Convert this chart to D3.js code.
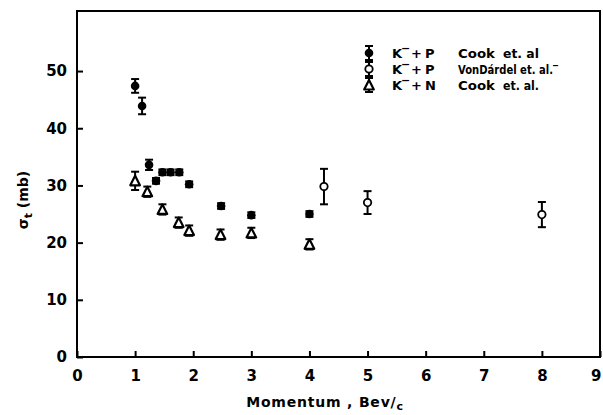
<!DOCTYPE html>
<html><head><meta charset="utf-8">
<script src="https://cdn.jsdelivr.net/npm/d3@7"></script>
<style>body{margin:0;background:#fff}svg{display:block}</style>
</head><body>
<svg id="c" width="603" height="415"></svg>
<script>
// ---- data ----
const kpCookX   = [1.0, 1.12, 1.24, 1.36, 1.47, 1.61, 1.76, 1.93, 2.48, 3.0, 4.0];
const kpCookY   = [47.4, 43.9, 33.6, 30.8, 32.3, 32.3, 32.3, 30.2, 26.4, 24.8, 25.0];
const kpCookErr = [1.2, 1.45, 0.9, 0.5, 0.5, 0.5, 0.5, 0.5, 0.5, 0.5, 0.5];
const kpVdX   = [4.25, 5.0, 8.0];
const kpVdY   = [29.8, 27.0, 24.9];
const kpVdErr = [3.1, 2.0, 2.2];
const knCookX   = [1.0, 1.21, 1.47, 1.75, 1.93, 2.47, 3.0, 4.0];
const knCookY   = [30.8, 28.9, 25.8, 23.5, 22.1, 21.4, 21.7, 19.7];
const knCookErr = [1.6, 0.9, 0.9, 0.9, 0.9, 0.9, 0.9, 0.9];
const xTicks = [0,1,2,3,4,5,6,7,8,9];
const yTicks = [0,10,20,30,40,50];
const legendLabels = [
  {react:"P", who:"Cook", etal:"et. al"},
  {react:"P", who:"VonDárdel", etal:"et. al.‾"},
  {react:"N", who:"Cook", etal:"et. al."}
];

const svg = d3.select("#c");
const FONT = "DejaVu Sans";
const x = d3.scaleLinear().domain([0,9]).range([77,600]);
const y = d3.scaleLinear().domain([0,60.5]).range([357,11]);

// frame
svg.append("rect").attr("x",x(0)).attr("y",y(60.5)).attr("width",x(9)-x(0)).attr("height",y(0)-y(60.5))
  .attr("fill","none").attr("stroke","#000").attr("stroke-width",2);

const gx = svg.append("g").attr("transform",`translate(0,${y(0)})`)
  .call(d3.axisBottom(x).tickValues(xTicks).tickSize(-6).tickPadding(13).tickFormat(d3.format("d")));
const gy = svg.append("g").attr("transform",`translate(${x(0)},0)`)
  .call(d3.axisLeft(y).tickValues(yTicks).tickSize(-6).tickPadding(10).tickFormat(d3.format("d")));
[gx,gy].forEach(g=>{
  g.select(".domain").remove();
  g.selectAll(".tick line").attr("stroke","#000").attr("stroke-width",2);
  g.selectAll(".tick text").attr("fill","#000").attr("font-family",FONT).attr("font-size",15).attr("font-weight","bold");
});
// keep the last x label inside the page
gx.selectAll(".tick text").filter(d=>d===9).attr("text-anchor","end").attr("dx",1);

// axis titles
const yl = svg.append("text").attr("transform","translate(28,200) rotate(-90)").attr("text-anchor","middle")
  .attr("font-family",FONT).attr("font-size",14).attr("font-weight","bold");
yl.append("tspan").text("σ");
yl.append("tspan").attr("dy",4).attr("font-size",11).text("t");
yl.append("tspan").attr("dy",-4).text(" (mb)");
const xl = svg.append("text").attr("x",325).attr("y",407).attr("text-anchor","middle")
  .attr("font-family",FONT).attr("font-size",14).attr("font-weight","bold").attr("letter-spacing",0.8);
xl.append("tspan").text("Momentum , Bev/");
xl.append("tspan").attr("dy",3).attr("font-size",11).text("c");

// marker helpers
function errBar(g, cx, y1, y2){
  g.append("line").attr("x1",cx).attr("x2",cx).attr("y1",y1).attr("y2",y2).attr("stroke","#000").attr("stroke-width",2);
  [y1,y2].forEach(v=>g.append("line").attr("x1",cx-4).attr("x2",cx+4).attr("y1",v).attr("y2",v).attr("stroke","#000").attr("stroke-width",2));
}
function marker(g, kind, cx, cy){
  if(kind==="filled") g.append("circle").attr("cx",cx).attr("cy",cy).attr("r",4.3).attr("fill","#000");
  else if(kind==="open") g.append("circle").attr("cx",cx).attr("cy",cy).attr("r",3.7).attr("fill","#fff").attr("stroke","#000").attr("stroke-width",1.8);
  else g.append("path").attr("d",`M${cx},${cy-5} L${cx+4.8},${cy+4.5} L${cx-4.8},${cy+4.5} Z`)
        .attr("fill","#fff").attr("stroke","#000").attr("stroke-width",2.2).attr("stroke-linejoin","round");
}
function series(xs, ys, es, kind){
  const g = svg.append("g");
  xs.forEach((xv,i)=>{
    errBar(g, x(xv), y(ys[i]+es[i]), y(ys[i]-es[i]));
  });
  xs.forEach((xv,i)=> marker(g, kind, x(xv), y(ys[i])));
}
series(knCookX, knCookY, knCookErr, "tri");
series(kpCookX, kpCookY, kpCookErr, "filled");
series(kpVdX, kpVdY, kpVdErr, "open");

// legend
const kinds = ["filled","open","tri"];
const lg = svg.append("g").attr("font-family",FONT).attr("font-size",13).attr("font-weight","bold").attr("fill","#000");
legendLabels.forEach((d,i)=>{
  const cy = 53 + i*16;
  errBar(lg, 369, cy-7, cy+7);
  marker(lg, kinds[i], 369, cy);
  const base = cy + 5;
  lg.append("text").attr("x",392).attr("y",base).text("K");
  lg.append("text").attr("x",401).attr("y",base-6).attr("font-size",11).text("−");
  lg.append("text").attr("x",411).attr("y",base).text("+");
  lg.append("text").attr("x",425).attr("y",base).text(d.react);
  if(i===1){
    lg.append("text").attr("x",458).attr("y",base).attr("textLength",100)
      .attr("lengthAdjust","spacingAndGlyphs").text(d.who+" "+d.etal);
  } else {
    lg.append("text").attr("x",458).attr("y",base).attr("textLength",37)
      .attr("lengthAdjust","spacingAndGlyphs").text(d.who);
    lg.append("text").attr("x",503).attr("y",base).attr("textLength",36)
      .attr("lengthAdjust","spacingAndGlyphs").text(d.etal);
  }
});
</script>
</body></html>
